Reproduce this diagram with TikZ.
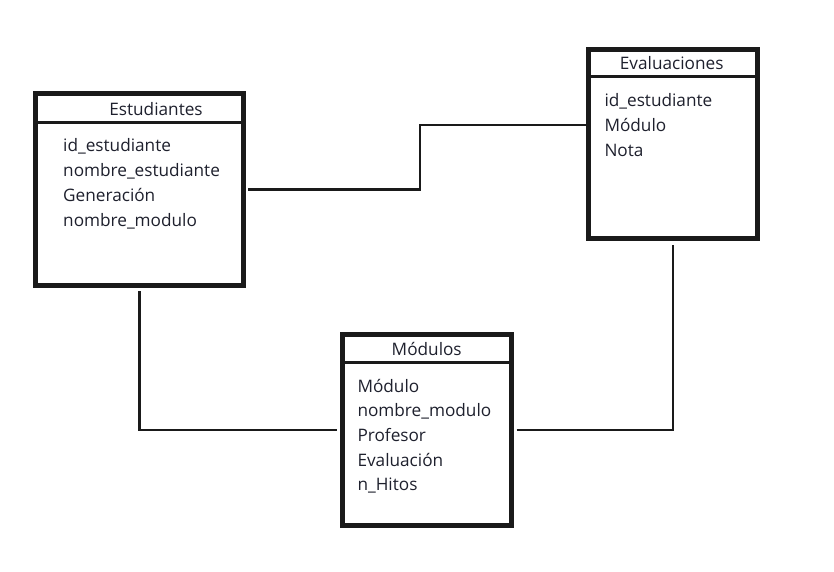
\documentclass[tikz,border=0pt]{standalone}
\usepackage{fontspec}
\setmainfont{Open Sans}
\usetikzlibrary{calc}

\definecolor{linea}{RGB}{26,26,26}
\definecolor{texto}{RGB}{30,32,45}

\newcommand{\FilaH}{24.7}
\newcommand{\letra}{\fontsize{17.2}{20}\selectfont}

\begin{document}
\begin{tikzpicture}[x=1pt,y=-1pt,
    tabla/.style={draw=linea, line width=5pt, inner sep=0pt, outer sep=0pt},
    cabecera/.style={draw=linea, line width=2.5pt},
    titulo/.style={anchor=base, inner sep=0pt, font=\letra, text=texto},
    campo/.style={anchor=base west, inner sep=0pt, font=\letra, text=texto},
    enlace/.style={draw=linea, line width=2.2pt}]
    \useasboundingbox (0,0) rectangle (834,572);

    % Estudiantes
    \node[tabla, minimum width=208pt, minimum height=191pt] (est) at (139.5,189.5) {};
    \draw[cabecera] ($(est.north west)+(0,28.7)$) -- ($(est.north east)+(0,28.7)$);
    \node[titulo] (est-t) at (156,115.3) {Estudiantes};
    \foreach \campo [count=\i from 0] in {id\_estudiante, nombre\_estudiante, Generación, nombre\_modulo}
        \node[campo] (est-\i) at (63,152+\FilaH*\i) {\campo};

    % Evaluaciones
    \node[tabla, minimum width=169.5pt, minimum height=188.5pt] (eva) at (672.75,144.25) {};
    \draw[cabecera] ($(eva.north west)+(0,26.7)$) -- ($(eva.north east)+(0,26.7)$);
    \node[titulo] (eva-t) at (671.7,69.6) {Evaluaciones};
    \foreach \campo [count=\i from 0] in {id\_estudiante, Módulo, Nota}
        \node[campo] (eva-\i) at (604.3,107+\FilaH*\i) {\campo};

    % Modulos
    \node[tabla, minimum width=169.7pt, minimum height=190.8pt] (mod) at (426.85,429.9) {};
    \draw[cabecera] ($(mod.north west)+(0,27.8)$) -- ($(mod.north east)+(0,27.8)$);
    \node[titulo] (mod-t) at (426.7,355.3) {Módulos};
    \foreach \campo [count=\i from 0] in {Módulo, nombre\_modulo, Profesor, Evaluación, n\_Hitos}
        \node[campo] (mod-\i) at (357.3,392+\FilaH*\i) {\campo};

    % relaciones
    \coordinate (q1) at (420,125);
    \draw[enlace] ($(est.east)+(4.8,0)$) -| (q1) -- (eva.west |- q1);
    \draw[enlace] ($(est.south)+(0,6)$) |- ($(mod.west)+(-4.7,0)$);
    \draw[enlace] ($(mod.east)+(5,0)$) -| ($(eva.south)+(0,6.5)$);
\end{tikzpicture}
\end{document}
